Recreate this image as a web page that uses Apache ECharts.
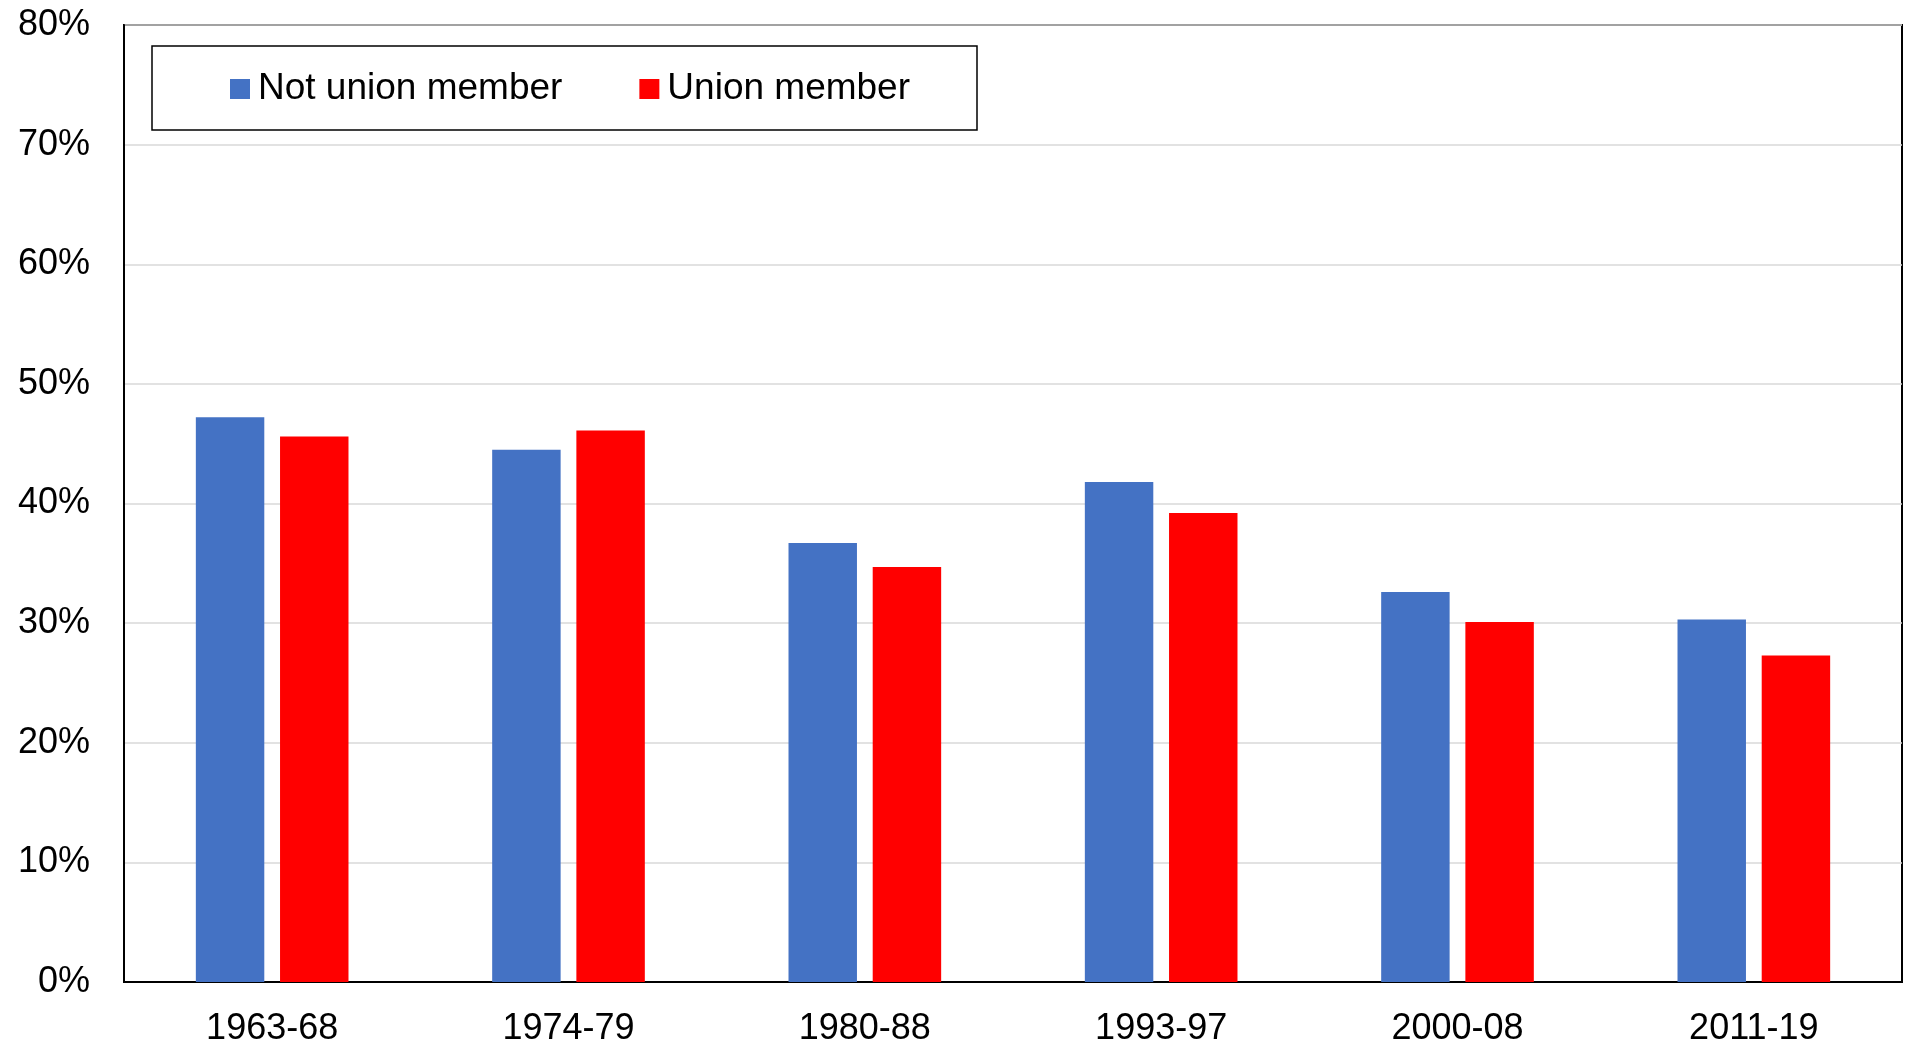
<!DOCTYPE html>
<html>
<head>
<meta charset="utf-8">
<title>Union membership</title>
<script src="https://cdn.jsdelivr.net/npm/echarts@6/dist/echarts.min.js"></script>
<style>
  html, body { margin: 0; padding: 0; background: #fff; }
  #chart { width: 1908px; height: 1044px; }
</style>
</head>
<body>
<div id="chart"></div>
<script>
// Periods on the category axis
const periods = ['1963-68', '1974-79', '1980-88', '1993-97', '2000-08', '2011-19'];
// Shares (%) for each group
const notUnionMember = [47.2, 44.5, 36.7, 41.8, 32.6, 30.3];
const unionMember = [45.6, 46.1, 34.7, 39.2, 30.1, 27.3];
// Value axis range and step (%)
const yMin = 0;
const yMax = 80;
const yStep = 10;

const FONT = "'Liberation Sans', Arial, sans-serif";

const chart = echarts.init(document.getElementById('chart'), null, { renderer: 'canvas' });

chart.setOption({
  animation: false,
  backgroundColor: '#ffffff',
  textStyle: { fontFamily: FONT, color: '#000' },
  grid: {
    left: 124, right: 6, top: 25, bottom: 62,
    show: true, borderColor: '#000', borderWidth: 2,
    containLabel: false,
    outerBoundsMode: 'none'
  },
  graphic: [{
    type: 'rect',
    shape: { x: 152, y: 46, width: 825, height: 84 },
    style: { fill: '#fff', stroke: '#000', lineWidth: 1.5 },
    z: 10
  }],
  legend: {
    left: 225, top: 64,
    itemWidth: 20, itemHeight: 20, itemGap: 77,
    icon: 'rect',
    z: 20,
    textStyle: { fontFamily: FONT, fontSize: 37, color: '#000', lineHeight: 40, padding: [0, 0, 0, 3] },
    data: ['Not union member', 'Union member']
  },
  xAxis: {
    type: 'category',
    data: periods,
    axisLine: { show: true, lineStyle: { color: '#000', width: 2 } },
    axisTick: { show: false },
    axisLabel: { fontFamily: FONT, fontSize: 36, color: '#000', margin: 29 },
    splitLine: { show: false }
  },
  yAxis: {
    type: 'value',
    min: yMin, max: yMax, interval: yStep,
    axisLine: { show: true, lineStyle: { color: '#000', width: 2 } },
    axisTick: { show: false },
    axisLabel: { fontFamily: FONT, fontSize: 36, color: '#000', margin: 34, padding: [5, 0, 0, 0], formatter: '{value}%' },
    splitLine: { show: true, lineStyle: { color: '#d9d9d9', width: 1.5 } }
  },
  series: [
    {
      name: 'Not union member',
      type: 'bar',
      data: notUnionMember,
      barWidth: '23.1%',
      barGap: '23%',
      itemStyle: { color: '#4472C4' }
    },
    {
      name: 'Union member',
      type: 'bar',
      data: unionMember,
      barWidth: '23.1%',
      barGap: '23%',
      itemStyle: { color: '#FF0000' }
    }
  ]
});
</script>
</body>
</html>
